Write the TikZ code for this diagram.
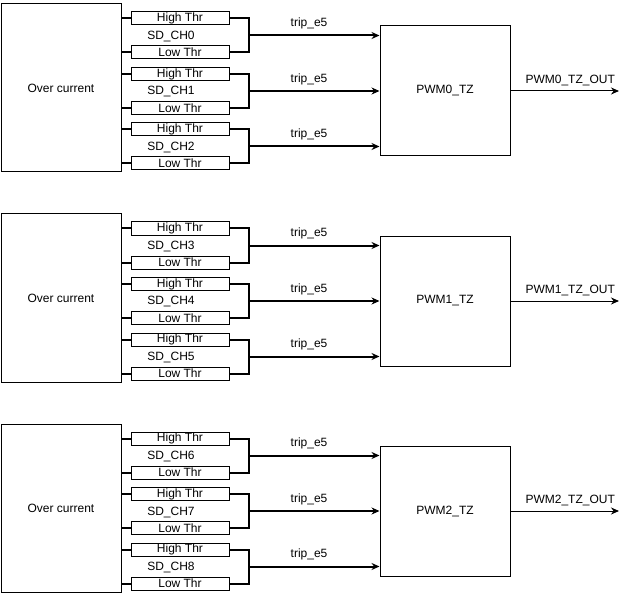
\documentclass[tikz,border=0pt]{standalone}
\usepackage{fontspec}
\setmainfont{Liberation Sans}
\usetikzlibrary{arrows.meta,positioning}

\begin{document}
\begin{tikzpicture}[x=1pt, y=-1pt,
  every node/.style={font=\fontsize{12}{14}\selectfont},
  srcbox/.style={draw=black, line width=1pt, minimum width=120pt,
                 minimum height=168pt, inner sep=0pt},
  thrbox/.style={draw=black, line width=1pt, minimum width=98pt,
                 minimum height=13pt, inner sep=0pt},
  tzbox/.style={draw=black, line width=1pt, minimum width=130pt,
                minimum height=130pt, inner sep=0pt},
  wire/.style={line width=2pt},
  sig/.style={line width=2pt, -{Stealth[length=8pt,width=7pt]}},
  outsig/.style={line width=1pt, -{Stealth[length=8pt,width=7pt]}},
]
  \useasboundingbox (0,0) rectangle (629,596);
  \foreach \b in {0,1,2} {
    \pgfmathsetmacro{\o}{210*\b}
    % over-current source and trip zone of this PWM
    \node[srcbox] (oc\b) at (61,88+\o) {Over current};
    \node[tzbox] (tz\b) at (445,91+\o) {PWM\b\_TZ};
    \coordinate (out\b) at (619,91+\o);
    \draw[outsig] (tz\b.east) -- (out\b)
      node[pos=0.55, above=1pt] {PWM\b\_TZ\_OUT};
    % the three SD channels
    \foreach \c in {0,1,2} {
      \pgfmathtruncatemacro{\n}{3*\b+\c}
      \pgfmathsetmacro{\y}{\o+55.5*\c}
      \node[thrbox] (hi\n) at (180,18.5+\y) {High Thr};
      \node[thrbox] (lo\n) at (180,52.5+\y) {Low Thr};
      \node (ch\n) at (171,36.5+\y) {SD\_CH\n};
      \coordinate (j\n) at (249,35.5+\y);
      \draw[wire] (oc\b.east |- hi\n.west) -- (hi\n.west);
      \draw[wire] (oc\b.east |- lo\n.west) -- (lo\n.west);
      \draw[wire] (hi\n.east) -| (j\n) |- (lo\n.east);
      \draw[sig] (j\n) -- (tz\b.west |- j\n)
        node[pos=0.46, above=2pt] {trip\_e5};
    }
  }
\end{tikzpicture}
\end{document}
